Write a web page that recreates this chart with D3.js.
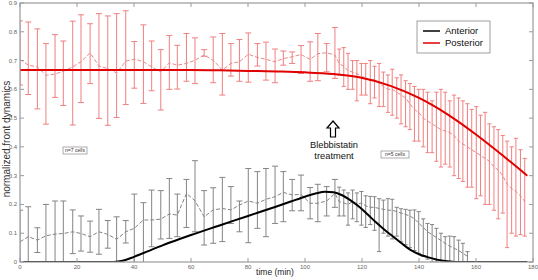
<!DOCTYPE html>
<html>
<head>
<meta charset="utf-8">
<script src="https://cdn.jsdelivr.net/npm/d3@7"></script>
<style>
  html, body { margin: 0; padding: 0; background: #fff; }
  svg { display: block; font-family: "Liberation Sans", Arial, sans-serif; }
</style>
</head>
<body>
<div id="chart"></div>
<script>
// time points (min) of the measured means
const tPts = [0, 2.9, 6.1, 9.1, 12.3, 15.2, 18.5, 21.4, 24.6, 27.7, 30.8, 33.9, 37.1, 40.1, 43.3, 46.2, 49.4, 52.4, 55.2,
  58.4, 61.4, 64.6, 67.8, 71, 74, 77, 80.1, 83.3, 86.3, 89.5, 92.4, 95.5, 98.6, 101.8, 104.5, 107.6, 110.5,
  112.0, 113.6, 115.1, 116.7, 118.2, 119.8, 121.3, 122.9, 124.4, 126.0, 127.5, 129.1, 130.6, 132.2, 133.7, 135.3,
  136.8, 138.4, 139.9, 141.5, 143.0, 144.6, 146.1, 147.7, 149.2, 150.8, 152.3, 153.9, 155.4, 157.0,
  158.5, 160.1, 161.6, 163.2, 164.7, 166.3, 167.8, 169.4, 170.9, 172.5, 174.0, 175.6, 177.1];

// posterior (red) mean and error bar ends
const postMean = [0.704, 0.684, 0.678, 0.649, 0.653, 0.663, 0.678, 0.696, 0.727, 0.681, 0.672, 0.657, 0.698, 0.705, 0.696, 0.678, 0.661, 0.692, 0.684,
  0.690, 0.701, 0.719, 0.701, 0.667, 0.690, 0.696, 0.722, 0.711, 0.704, 0.696, 0.707, 0.713, 0.721, 0.704, 0.724, 0.727, 0.719,
  0.690, 0.680, 0.665, 0.660, 0.655, 0.645, 0.640, 0.630, 0.635, 0.620, 0.610, 0.600, 0.600, 0.590, 0.580, 0.570,
  0.550, 0.530, 0.520, 0.500, 0.490, 0.480, 0.470, 0.460, 0.455, 0.450, 0.440, 0.420, 0.410, 0.400,
  0.390, 0.380, 0.370, 0.360, 0.350, 0.330, 0.320, 0.300, 0.270, 0.255, 0.245, 0.230, 0.210];
const postHi = [0.838, 0.834, 0.810, 0.759, 0.790, 0.768, 0.837, 0.859, 0.828, 0.863, 0.855, 0.863, 0.873, 0.766, 0.824, 0.768, 0.738, 0.787, 0.753,
  0.794, 0.779, 0.738, 0.782, 0.794, 0.759, 0.773, 0.796, 0.759, 0.764, 0.740, 0.733, 0.730, 0.752, 0.765, 0.794, 0.759, 0.815,
  0.740, 0.745, 0.725, 0.700, 0.700, 0.690, 0.690, 0.700, 0.680, 0.690, 0.660, 0.650, 0.670, 0.640, 0.650, 0.630,
  0.620, 0.610, 0.600, 0.600, 0.590, 0.560, 0.590, 0.600, 0.590, 0.560, 0.580, 0.570, 0.560, 0.550,
  0.530, 0.540, 0.510, 0.520, 0.480, 0.470, 0.460, 0.440, 0.420, 0.400, 0.430, 0.390, 0.360];
const postLo = [0.615, 0.582, 0.532, 0.479, 0.572, 0.544, 0.476, 0.554, 0.620, 0.499, 0.475, 0.502, 0.547, 0.604, 0.551, 0.595, 0.528, 0.600, 0.601,
  0.628, 0.620, 0.715, 0.623, 0.580, 0.646, 0.628, 0.625, 0.681, 0.632, 0.623, 0.684, 0.690, 0.655, 0.628, 0.630, 0.661, 0.638,
  0.650, 0.610, 0.600, 0.600, 0.560, 0.580, 0.580, 0.550, 0.570, 0.540, 0.540, 0.520, 0.510, 0.500, 0.480, 0.470,
  0.460, 0.420, 0.420, 0.400, 0.380, 0.380, 0.350, 0.330, 0.340, 0.330, 0.300, 0.290, 0.280, 0.260,
  0.260, 0.220, 0.230, 0.200, 0.200, 0.180, 0.150, 0.170, 0.050, 0.100, 0.090, 0.095, 0.090];

// anterior (black) mean and error bar ends
const antT = tPts.slice(0, 67);
const antMean = [0.070, 0.088, 0.076, 0.091, 0.097, 0.099, 0.105, 0.099, 0.088, 0.105, 0.096, 0.079, 0.105, 0.117, 0.146, 0.146, 0.149, 0.167, 0.163,
  0.238, 0.213, 0.157, 0.181, 0.186, 0.181, 0.198, 0.212, 0.204, 0.218, 0.227, 0.242, 0.233, 0.235, 0.204, 0.204, 0.212, 0.238,
  0.210, 0.205, 0.200, 0.210, 0.200, 0.205, 0.195, 0.190, 0.190, 0.186, 0.183, 0.180, 0.180, 0.175, 0.170, 0.165,
  0.160, 0.150, 0.135, 0.120, 0.105, 0.095, 0.085, 0.075, 0.065, 0.055, 0.048, 0.040, 0.030, 0.020];
const antHi = [0.180, 0.192, 0.119, 0.200, 0.212, 0.212, 0.181, 0.160, 0.142, 0.183, 0.144, 0.157, 0.144, 0.236, 0.206, 0.250, 0.248, 0.290, 0.236,
  0.287, 0.352, 0.248, 0.258, 0.294, 0.262, 0.212, 0.325, 0.314, 0.325, 0.333, 0.314, 0.287, 0.302, 0.259, 0.270, 0.262, 0.287,
  0.260, 0.250, 0.240, 0.250, 0.240, 0.245, 0.230, 0.228, 0.227, 0.220, 0.215, 0.220, 0.218, 0.190, 0.185, 0.183,
  0.180, 0.181, 0.175, 0.150, 0.134, 0.130, 0.117, 0.100, 0.088, 0.090, 0.088, 0.076, 0.065, 0.036];
const antLo = [-0.040, -0.016, 0.033, -0.018, -0.018, -0.014, 0.029, 0.038, 0.034, 0.027, 0.048, 0.001, 0.066, -0.002, -0.010, 0.053, 0.080, 0.082, 0.088,
  0.120, 0.105, 0.059, 0.065, 0.071, 0.134, 0.105, 0.067, 0.117, 0.088, 0.134, 0.140, 0.178, 0.178, 0.150, 0.140, 0.160, 0.190,
  0.160, 0.160, 0.128, 0.150, 0.140, 0.128, 0.120, 0.130, 0.110, 0.036, 0.100, 0.090, 0.080, 0.090, 0.070, 0.060,
  0.050, 0.040, 0.030, 0.020, 0.010, 0.000, 0.000, -0.010, -0.010, -0.020, -0.010, -0.020, -0.010, -0.010];

// fitted curves
const postFitT = [0, 20, 40, 60, 70, 80, 90, 100, 110, 119, 130, 140, 150, 160, 170, 178];
const postFitV = [0.667, 0.667, 0.667, 0.667, 0.666, 0.664, 0.662, 0.659, 0.653, 0.642, 0.612, 0.570, 0.513, 0.443, 0.365, 0.300];
const antFitT = [1, 20, 33, 36, 40, 45, 50, 56, 60, 70, 80, 90, 95, 100, 104, 107, 110, 113, 116, 119, 122, 125, 128, 131, 134, 137, 140, 143, 146, 150, 155, 178];
const antFitV = [0, 0, 0, 0.004, 0.018, 0.038, 0.058, 0.080, 0.094, 0.127, 0.160, 0.193, 0.210, 0.227, 0.239, 0.244, 0.242, 0.232, 0.214, 0.192, 0.165, 0.137, 0.111, 0.088, 0.064, 0.042, 0.027, 0.017, 0.009, 0.003, 0, 0];

const xTicks = [0, 20, 40, 60, 80, 100, 120, 140, 160, 180];
const yTicks = [0, 0.1, 0.2, 0.3, 0.4, 0.5, 0.6, 0.7, 0.8, 0.9];

const width = 538, height = 280;
const pLeft = 20, pRight = 533, pTop = 3, pBottom = 262;

const svg = d3.select("#chart").append("svg")
  .attr("width", width).attr("height", height)
  .attr("viewBox", `0 0 ${width} ${height}`);

const x = d3.scaleLinear().domain([0, 180]).range([pLeft, pRight]);
const y = d3.scaleLinear().domain([0, 0.9]).range([pBottom, pTop]);

svg.append("clipPath").attr("id", "plot")
  .append("rect").attr("x", pLeft).attr("y", pTop).attr("width", pRight - pLeft).attr("height", pBottom - pTop);

const plot = svg.append("g").attr("clip-path", "url(#plot)");

function errorBars(ts, hi, lo, color, capW) {
  const g = plot.append("g").attr("stroke", color).attr("stroke-width", 1).attr("fill", "none");
  ts.forEach((t, i) => {
    const cx = x(t);
    g.append("line").attr("x1", cx).attr("x2", cx).attr("y1", y(hi[i])).attr("y2", y(lo[i]));
    const w = t > 111 ? capW * 0.7 : capW;
    g.append("line").attr("x1", cx - w).attr("x2", cx + w).attr("y1", y(hi[i])).attr("y2", y(hi[i]));
    g.append("line").attr("x1", cx - w).attr("x2", cx + w).attr("y1", y(lo[i])).attr("y2", y(lo[i]));
  });
}

const line = d3.line().x(d => x(d[0])).y(d => y(d[1]));

errorBars(tPts, postHi, postLo, "#f07f7f", 3);
plot.append("path").datum(tPts.map((t, i) => [t, postMean[i]]))
  .attr("d", line).attr("fill", "none").attr("stroke", "#e98888")
  .attr("stroke-width", 1).attr("stroke-dasharray", "4,2");

errorBars(antT, antHi, antLo, "#848484", 3);
plot.append("path").datum(antT.map((t, i) => [t, antMean[i]]))
  .attr("d", line).attr("fill", "none").attr("stroke", "#848484")
  .attr("stroke-width", 1).attr("stroke-dasharray", "4,2");

const smooth = d3.line().x(d => x(d[0])).y(d => y(d[1])).curve(d3.curveMonotoneX);
plot.append("path").datum(postFitT.map((t, i) => [t, postFitV[i]]))
  .attr("d", smooth).attr("fill", "none").attr("stroke", "#e00000").attr("stroke-width", 2);
plot.append("path").datum(antFitT.map((t, i) => [t, antFitV[i]]))
  .attr("d", smooth).attr("fill", "none").attr("stroke", "#000").attr("stroke-width", 2);

// axes box and inward ticks
const axisColor = "#9a9a9a";
svg.append("rect").attr("x", pLeft).attr("y", pTop).attr("width", pRight - pLeft).attr("height", pBottom - pTop)
  .attr("fill", "none").attr("stroke", axisColor).attr("stroke-width", 1.2);

const tk = svg.append("g").attr("stroke", axisColor).attr("stroke-width", 1);
xTicks.forEach(v => {
  tk.append("line").attr("x1", x(v)).attr("x2", x(v)).attr("y1", pBottom).attr("y2", pBottom - 4);
  tk.append("line").attr("x1", x(v)).attr("x2", x(v)).attr("y1", pTop).attr("y2", pTop + 4);
});
yTicks.forEach(v => {
  tk.append("line").attr("x1", pLeft).attr("x2", pLeft + 4).attr("y1", y(v)).attr("y2", y(v));
  tk.append("line").attr("x1", pRight).attr("x2", pRight - 4).attr("y1", y(v)).attr("y2", y(v));
});

svg.append("g").selectAll("text").data(xTicks).join("text")
  .attr("x", d => x(d)).attr("y", pBottom + 6.5)
  .attr("text-anchor", "middle").attr("font-size", "6px").attr("fill", "#666")
  .text(d => d);
svg.append("g").selectAll("text").data(yTicks).join("text")
  .attr("x", pLeft - 3).attr("y", d => y(d) + 2)
  .attr("text-anchor", "end").attr("font-size", "6px").attr("fill", "#666")
  .text(d => d === 0 ? "0" : d3.format(".1f")(d));

svg.append("text").attr("x", 275).attr("y", 274.5)
  .attr("text-anchor", "middle").attr("font-size", "8.5px").attr("fill", "#222")
  .text("time (min)");
svg.append("text").attr("transform", "translate(9.5,139) rotate(-90)")
  .attr("text-anchor", "middle").attr("font-size", "10px").attr("fill", "#333")
  .text("normalized front dynamics");

// legend
const lg = svg.append("g");
lg.append("rect").attr("x", 417).attr("y", 21).attr("width", 73).attr("height", 32)
  .attr("fill", "#fff").attr("stroke", "#888").attr("stroke-width", 0.8);
[["Anterior", "#000", 31], ["Posterior", "#e00000", 43]].forEach(([name, c, ly]) => {
  lg.append("line").attr("x1", 423).attr("x2", 440).attr("y1", ly).attr("y2", ly)
    .attr("stroke", c).attr("stroke-width", 1.5);
  lg.append("text").attr("x", 445).attr("y", ly + 3.3).attr("font-size", "9.5px").attr("fill", "#111").text(name);
});

// annotations
[["n=7 cells", 63, 147, 24], ["n=5 cells", 381, 151, 28]].forEach(([s, bx, by, bw]) => {
  svg.append("rect").attr("x", bx).attr("y", by).attr("width", bw).attr("height", 7)
    .attr("fill", "#fff").attr("stroke", "#777").attr("stroke-width", 0.6);
  svg.append("text").attr("x", bx + bw / 2).attr("y", by + 5.2).attr("text-anchor", "middle")
    .attr("font-size", "5px").attr("fill", "#333").text(s);
});

const ax = 333;
svg.append("path")
  .attr("d", `M${ax},121 L${ax + 6},128 L${ax + 2.5},128 L${ax + 2.5},137 L${ax - 2.5},137 L${ax - 2.5},128 L${ax - 6},128 Z`)
  .attr("fill", "#fff").attr("stroke", "#000").attr("stroke-width", 1.2).attr("stroke-linejoin", "miter");
svg.append("text").attr("x", 334).attr("y", 148).attr("text-anchor", "middle")
  .attr("font-size", "9.3px").attr("fill", "#111").text("Blebbistatin");
svg.append("text").attr("x", 334).attr("y", 158.5).attr("text-anchor", "middle")
  .attr("font-size", "9.3px").attr("fill", "#111").text("treatment");
</script>
</body>
</html>
